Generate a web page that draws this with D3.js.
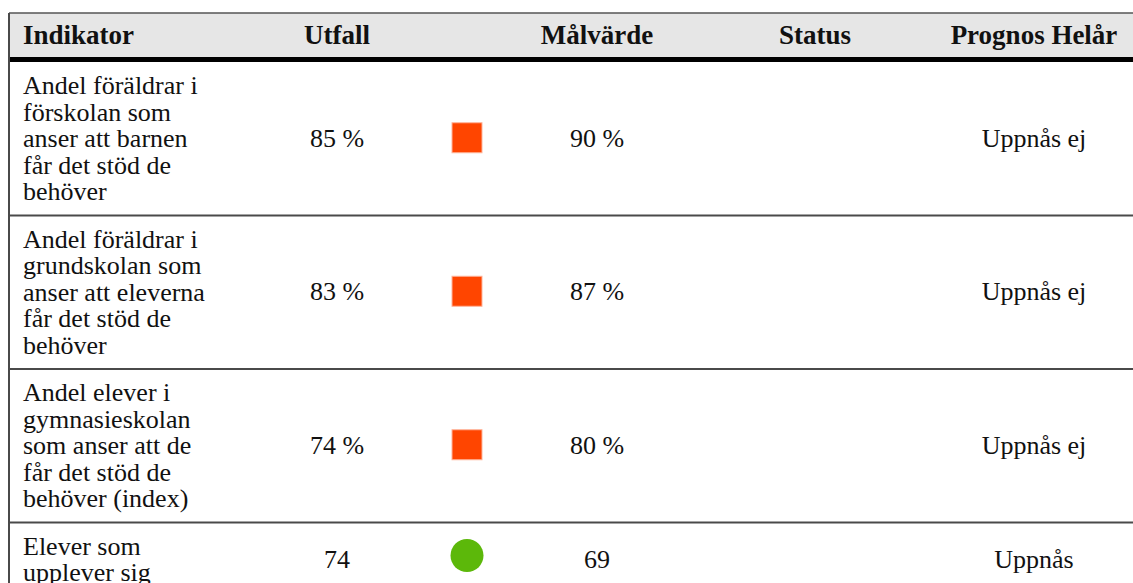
<!DOCTYPE html>
<html>
<head>
<meta charset="utf-8">
<script src="https://cdn.jsdelivr.net/npm/d3@7"></script>
<style>
  body { margin: 0; background: #fff; }
  svg { display: block; }
  text { font-family: "Liberation Serif", "DejaVu Serif", serif; fill: #111; }
</style>
</head>
<body>
<svg id="tbl"></svg>
<script>
// kolumnrubriker
const rubriker = ["Indikator", "Utfall", "", "Målvärde", "Status", "Prognos Helår"];

// indikatorer, en rad per textrad
const indikatorer = [
  ["Andel föräldrar i", "förskolan som", "anser att barnen", "får det stöd de", "behöver"],
  ["Andel föräldrar i", "grundskolan som", "anser att eleverna", "får det stöd de", "behöver"],
  ["Andel elever i", "gymnasieskolan", "som anser att de", "får det stöd de", "behöver (index)"],
  ["Elever som", "upplever sig"]
];
const utfall = ["85 %", "83 %", "74 %", "74"];
const malvarde = ["90 %", "87 %", "80 %", "69"];
const status = ["ej", "ej", "ej", "ok"];
const prognos = ["Uppnås ej", "Uppnås ej", "Uppnås ej", "Uppnås"];

const width = 1133;
const height = 583;
const kantV = 9;
const kantT = 13;
const headH = 44;
const lineH = 26.5;
const pad = 21;

const svg = d3.select("#tbl").attr("width", width).attr("height", height);

const kol = ["indikator", "utfall", "markor", "malvarde", "status", "prognos"];
const x = d3.scaleOrdinal().domain(kol).range([23, 337, 467, 597, 815, 1034]);
const farg = d3.scaleOrdinal().domain(["ej", "ok"]).range(["#ff4500", "#5cb80a"]);

// radhöjder från antal textrader
const hojd = indikatorer.map(d => d.length * lineH + pad);
const bodyTop = kantT + headH + 5;
const toppar = [bodyTop, ...Array.from(d3.cumsum(hojd), h => bodyTop + h)];

const rows = indikatorer.map((d, i) => ({
  lines: d, utfall: utfall[i], malvarde: malvarde[i], status: status[i], prognos: prognos[i],
  y0: toppar[i], y1: toppar[i + 1], cy: (toppar[i] + toppar[i + 1]) / 2
}));

// header
svg.append("rect").attr("x", kantV).attr("y", kantT).attr("width", width - kantV).attr("height", headH)
  .attr("fill", "#e6e6e6");
svg.append("line").attr("x1", kantV).attr("x2", width).attr("y1", kantT).attr("y2", kantT)
  .attr("stroke", "#555").attr("stroke-width", 1.5);
svg.append("rect").attr("x", kantV).attr("y", kantT + headH).attr("width", width - kantV).attr("height", 5)
  .attr("fill", "#000");

svg.selectAll("text.head").data(rubriker).join("text")
  .attr("class", "head")
  .attr("x", (d, i) => x(kol[i]))
  .attr("y", kantT + 31)
  .attr("text-anchor", (d, i) => i === 0 ? "start" : "middle")
  .style("font-size", "27px").style("font-weight", "bold")
  .text(d => d);

// rader
const g = svg.selectAll("g.rad").data(rows).join("g").attr("class", "rad");

g.append("line")
  .attr("x1", kantV).attr("x2", width)
  .attr("y1", d => d.y1).attr("y2", d => d.y1)
  .attr("stroke", "#4a4a4a").attr("stroke-width", 2);

g.each(function(d) {
  const t = d3.select(this).append("text").style("font-size", "26px");
  t.selectAll("tspan").data(d.lines).join("tspan")
    .attr("x", x("indikator"))
    .attr("y", (l, j) => d.y0 + 32 + j * lineH)
    .text(l => l);
});

const cell = (key, f) => g.append("text")
  .attr("x", x(key)).attr("y", d => d.cy + 8)
  .attr("text-anchor", "middle").style("font-size", "26px")
  .text(f);

cell("utfall", d => d.utfall);
cell("malvarde", d => d.malvarde);
cell("prognos", d => d.prognos);

g.filter(d => d.status === "ej").append("rect")
  .attr("x", x("markor") - 15).attr("y", d => d.cy - 16)
  .attr("width", 30).attr("height", 30)
  .attr("fill", d => farg(d.status)).attr("stroke", "#ffb399").attr("stroke-width", 1);

g.filter(d => d.status === "ok").append("circle")
  .attr("cx", x("markor")).attr("cy", d => d.cy - 4)
  .attr("r", 16.5)
  .attr("fill", d => farg(d.status));

// vänsterkant
svg.append("line").attr("x1", kantV).attr("x2", kantV).attr("y1", kantT).attr("y2", height)
  .attr("stroke", "#4a4a4a").attr("stroke-width", 2);
</script>
</body>
</html>
